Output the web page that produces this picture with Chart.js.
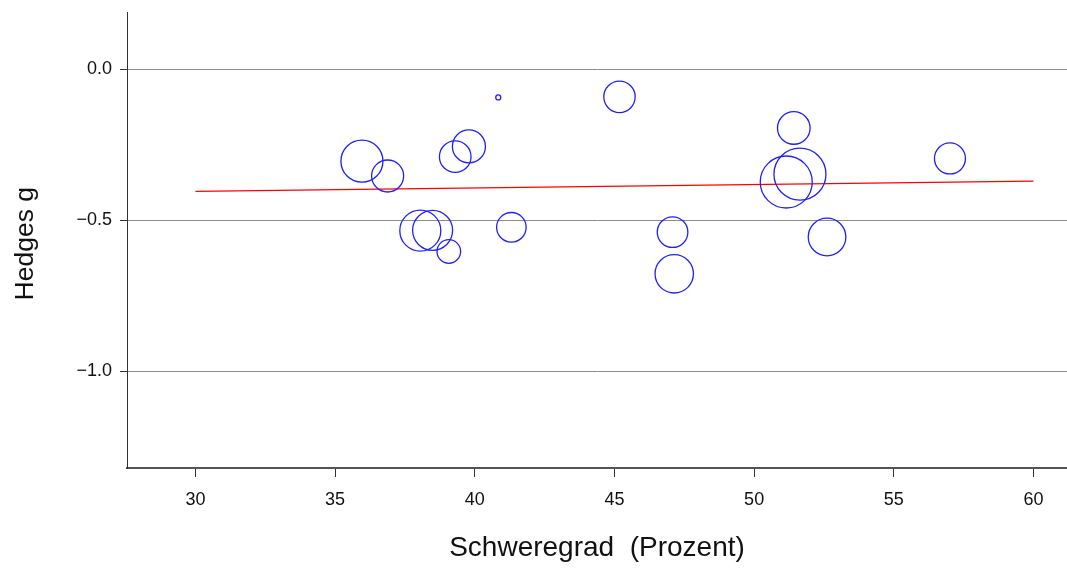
<!DOCTYPE html>
<html>
<head>
<meta charset="utf-8">
<script src="https://cdn.jsdelivr.net/npm/chart.js@4.4.1/dist/chart.umd.min.js"></script>
<style>
  html, body { margin: 0; padding: 0; background: #fff; }
  #wrap { width: 1067px; height: 568px; }
</style>
</head>
<body>
<div id="wrap"><canvas id="metaChart" width="1067" height="568"></canvas></div>
<script>
// Schweregrad (Prozent) je Studie
const severity = [35.96, 36.88, 38.05, 38.49, 39.07, 39.30, 39.79, 40.84, 41.31,
                  45.18, 47.08, 47.14, 51.15, 51.64, 51.42, 52.61, 57.01];
// Hedges g je Studie
const hedgesG = [-0.304, -0.353, -0.534, -0.533, -0.603, -0.289, -0.255, -0.093, -0.523,
                 -0.091, -0.539, -0.677, -0.373, -0.347, -0.194, -0.555, -0.295];
// Gewicht (Blasengröße)
const weights = [21, 16, 20.5, 20, 11.8, 15.8, 16.5, 2.5, 14.8,
                 15.7, 15.3, 19.2, 26, 26, 16.3, 18.8, 15.5];

// Regressionsgerade
const regX = [30, 60];
const regY = [-0.404, -0.370];

const xTicks = [30, 35, 40, 45, 50, 55, 60];
const yTicks = [-1.0, -0.5, 0.0];
const yTickLabels = ["\u22121.0", "\u22120.5", "0.0"];

const fontFamily = "'Liberation Sans', Arial, Helvetica, sans-serif";

document.addEventListener("DOMContentLoaded", function () {
    const bubbles = severity.map((x, i) => ({ x: x, y: hedgesG[i], r: weights[i] }));
    const regLine = regX.map((x, i) => ({ x: x, y: regY[i] }));

    new Chart(document.getElementById("metaChart"), {
        data: {
            datasets: [{
                type: 'bubble',
                data: bubbles,
                backgroundColor: 'rgba(0,0,0,0)',
                borderColor: '#1f1fff',
                borderWidth: 1.3,
                hoverRadius: 0,
                hoverBorderWidth: 1.3
            }, {
                type: 'line',
                data: regLine,
                borderColor: '#ff0000',
                borderWidth: 1.2,
                pointRadius: 0,
                fill: false
            }]
        },
        options: {
            responsive: false,
            animation: false,
            events: [],
            layout: {
                autoPadding: false,
                padding: { top: 12, left: 0, right: 0, bottom: 0 }
            },
            plugins: {
                legend: { display: false },
                tooltip: { enabled: false }
            },
            scales: {
                x: {
                    type: 'linear',
                    min: 27.55,
                    max: 61.2,
                    afterBuildTicks: axis => { axis.ticks = xTicks.map(v => ({ value: v })); },
                    afterFit: axis => {
                        axis.height = 100;
                        axis.paddingLeft = 0;
                        axis.paddingRight = 0;
                    },
                    ticks: {
                        color: '#111',
                        font: { family: fontFamily, size: 18 },
                        padding: 12,
                        maxRotation: 0,
                        callback: v => String(v)
                    },
                    grid: {
                        drawOnChartArea: false,
                        drawTicks: true,
                        tickLength: 9,
                        tickColor: '#333',
                        tickWidth: 1
                    },
                    border: { display: true, color: '#555', width: 2 },
                    title: {
                        display: true,
                        text: 'Schweregrad  (Prozent)',
                        color: '#111',
                        font: { family: fontFamily, size: 28 },
                        padding: { top: 0, bottom: 3 }
                    }
                },
                y: {
                    type: 'linear',
                    min: -1.32,
                    max: 0.19,
                    afterBuildTicks: axis => { axis.ticks = yTicks.map(v => ({ value: v })); },
                    afterFit: axis => {
                        axis.width = 127;
                        axis.paddingTop = 0;
                        axis.paddingBottom = 0;
                    },
                    ticks: {
                        color: '#111',
                        font: { family: fontFamily, size: 18 },
                        padding: 8,
                        callback: v => yTickLabels[yTicks.indexOf(v)]
                    },
                    grid: {
                        color: '#8c8c8c',
                        lineWidth: 1,
                        drawTicks: true,
                        tickLength: 7,
                        tickColor: '#333'
                    },
                    border: { display: true, color: '#333', width: 1 },
                    title: {
                        display: true,
                        text: 'Hedges g ',
                        color: '#111',
                        font: { family: fontFamily, size: 26.5 },
                        padding: { top: 10, bottom: 0 }
                    }
                }
            }
        }
    });
});
</script>
</body>
</html>
